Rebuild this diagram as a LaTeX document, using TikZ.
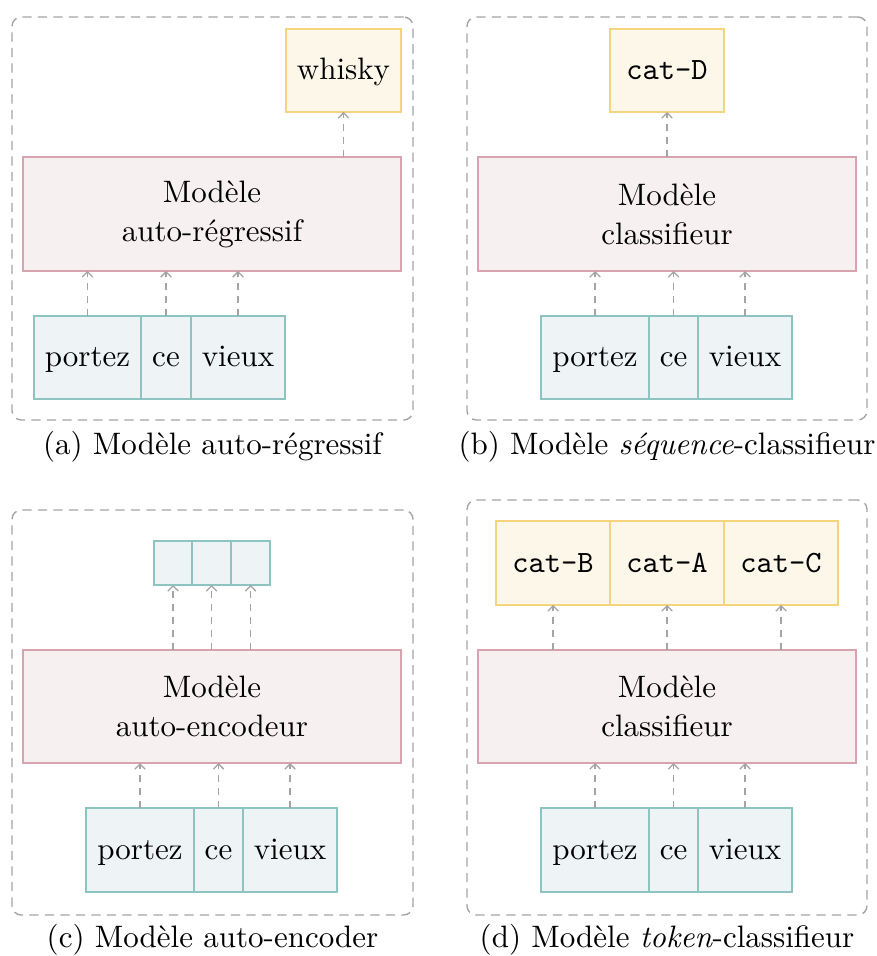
\documentclass[tikz,border=0pt]{standalone}
\usepackage{fontspec}
\usetikzlibrary{arrows.meta}
\definecolor{yfill}{HTML}{FDF7EA}
\definecolor{ydraw}{HTML}{F5D47E}
\definecolor{pfill}{HTML}{F6F0F1}
\definecolor{pdraw}{HTML}{D8A3AE}
\definecolor{tfill}{HTML}{EEF4F6}
\definecolor{tdraw}{HTML}{8DC4C2}
\definecolor{lgray}{HTML}{A4A4A4}
\tikzset{
  wh/.style 2 args={minimum width=#1*0.3226pt, minimum height=#2*0.3226pt},
  basebox/.style={rectangle, inner sep=0pt, outer sep=0pt, line width=0.45pt,
    align=center, font=\fontsize{10}{12.6}\selectfont},
  oneline/.style={text height=7pt, text depth=1pt},
  ybox/.style={basebox, oneline, fill=yfill, draw=ydraw},
  pbox/.style={basebox, fill=pfill, draw=pdraw},
  tbox/.style={basebox, oneline, fill=tfill, draw=tdraw},
  frame/.style={draw=lgray, line width=0.45pt, dash pattern=on 3pt off 2pt,
    rounded corners=3pt, inner sep=0pt, outer sep=0pt},
  arr/.style={draw=lgray, line width=0.4pt, dash pattern=on 2.3pt off 1.9pt,
    -{Straight Barb[length=1.7pt,width=3.4pt]}},
  capt/.style={font=\fontsize{10}{12}\selectfont, inner sep=0pt}
}
\begin{document}
\begin{tikzpicture}[x=0.3226pt,y=-0.3226pt]
\useasboundingbox (0,0) rectangle (877,956);
% ---------- panel (a)
\node[frame, wh={401}{403}] (fa) at (212.5,218.5) {};
\node[ybox, wh={115}{83}] (aw) at (343.5,70.5) {whisky};
\node[pbox, wh={378}{114}] (am) at (212,214) {Modèle\\auto-régressif};
\node[tbox, wh={107}{83}] (a1) at (87.5,357.5) {portez};
\node[tbox, wh={50}{83}] (a2) at (166,357.5) {ce};
\node[tbox, wh={94}{83}] (a3) at (238,357.5) {vieux};
\draw[arr] (a1.north) -- (a1.north |- am.south);
\draw[arr] (a2.north) -- (a2.north |- am.south);
\draw[arr] (a3.north) -- (a3.north |- am.south);
\draw[arr] (aw.south |- am.north) -- (aw.south);
\node[capt] (ca) at (212.5,447) {(a) Modèle auto-régressif};
% ---------- panel (b)
\node[frame, wh={400}{403}] (fb) at (667,218.5) {};
\node[ybox, wh={114}{83}] (bd) at (667,70.5) {\texttt{cat-D}};
\node[pbox, wh={378}{114}] (bm) at (667,214) {Modèle\\classifieur};
\node[tbox, wh={108}{83}] (b1) at (595,357.5) {portez};
\node[tbox, wh={49}{83}] (b2) at (673.5,357.5) {ce};
\node[tbox, wh={94}{83}] (b3) at (745,357.5) {vieux};
\draw[arr] (b1.north) -- (b1.north |- bm.south);
\draw[arr] (b2.north) -- (b2.north |- bm.south);
\draw[arr] (b3.north) -- (b3.north |- bm.south);
\draw[arr] (bd.south |- bm.north) -- (bd.south);
\node[capt] (cb) at (667,447) {(b) Modèle \emph{séquence}-classifieur};
% ---------- panel (c)
\node[frame, wh={401}{405}] (fc) at (212.5,712.5) {};
\node[tbox, wh={38}{44}] (co1) at (173,563) {};
\node[tbox, wh={39}{44}] (co2) at (211.5,563) {};
\node[tbox, wh={39}{44}] (co3) at (250.5,563) {};
\node[pbox, wh={378}{113}] (cm) at (212,706.5) {Modèle\\auto-encodeur};
\node[tbox, wh={108}{84}] (c1) at (140,850) {portez};
\node[tbox, wh={49}{84}] (c2) at (218.5,850) {ce};
\node[tbox, wh={94}{84}] (c3) at (290,850) {vieux};
\draw[arr] (c1.north) -- (c1.north |- cm.south);
\draw[arr] (c2.north) -- (c2.north |- cm.south);
\draw[arr] (c3.north) -- (c3.north |- cm.south);
\draw[arr] (co1.south |- cm.north) -- (co1.south);
\draw[arr] (co2.south |- cm.north) -- (co2.south);
\draw[arr] (co3.south |- cm.north) -- (co3.south);
\node[capt] (cc) at (212.5,940) {(c) Modèle auto-encoder};
% ---------- panel (d)
\node[frame, wh={400}{415}] (fd) at (667,707.5) {};
\node[ybox, wh={114}{84}] (dB) at (553,563) {\texttt{cat-B}};
\node[ybox, wh={114}{84}] (dA) at (667,563) {\texttt{cat-A}};
\node[ybox, wh={114}{84}] (dC) at (781,563) {\texttt{cat-C}};
\node[pbox, wh={378}{113}] (dm) at (667,706.5) {Modèle\\classifieur};
\node[tbox, wh={108}{84}] (d1) at (595,850) {portez};
\node[tbox, wh={49}{84}] (d2) at (673.5,850) {ce};
\node[tbox, wh={94}{84}] (d3) at (745,850) {vieux};
\draw[arr] (d1.north) -- (d1.north |- dm.south);
\draw[arr] (d2.north) -- (d2.north |- dm.south);
\draw[arr] (d3.north) -- (d3.north |- dm.south);
\draw[arr] (dB.south |- dm.north) -- (dB.south);
\draw[arr] (dA.south |- dm.north) -- (dA.south);
\draw[arr] (dC.south |- dm.north) -- (dC.south);
\node[capt] (cd) at (667,940) {(d) Modèle \emph{token}-classifieur};
\end{tikzpicture}
\end{document}
